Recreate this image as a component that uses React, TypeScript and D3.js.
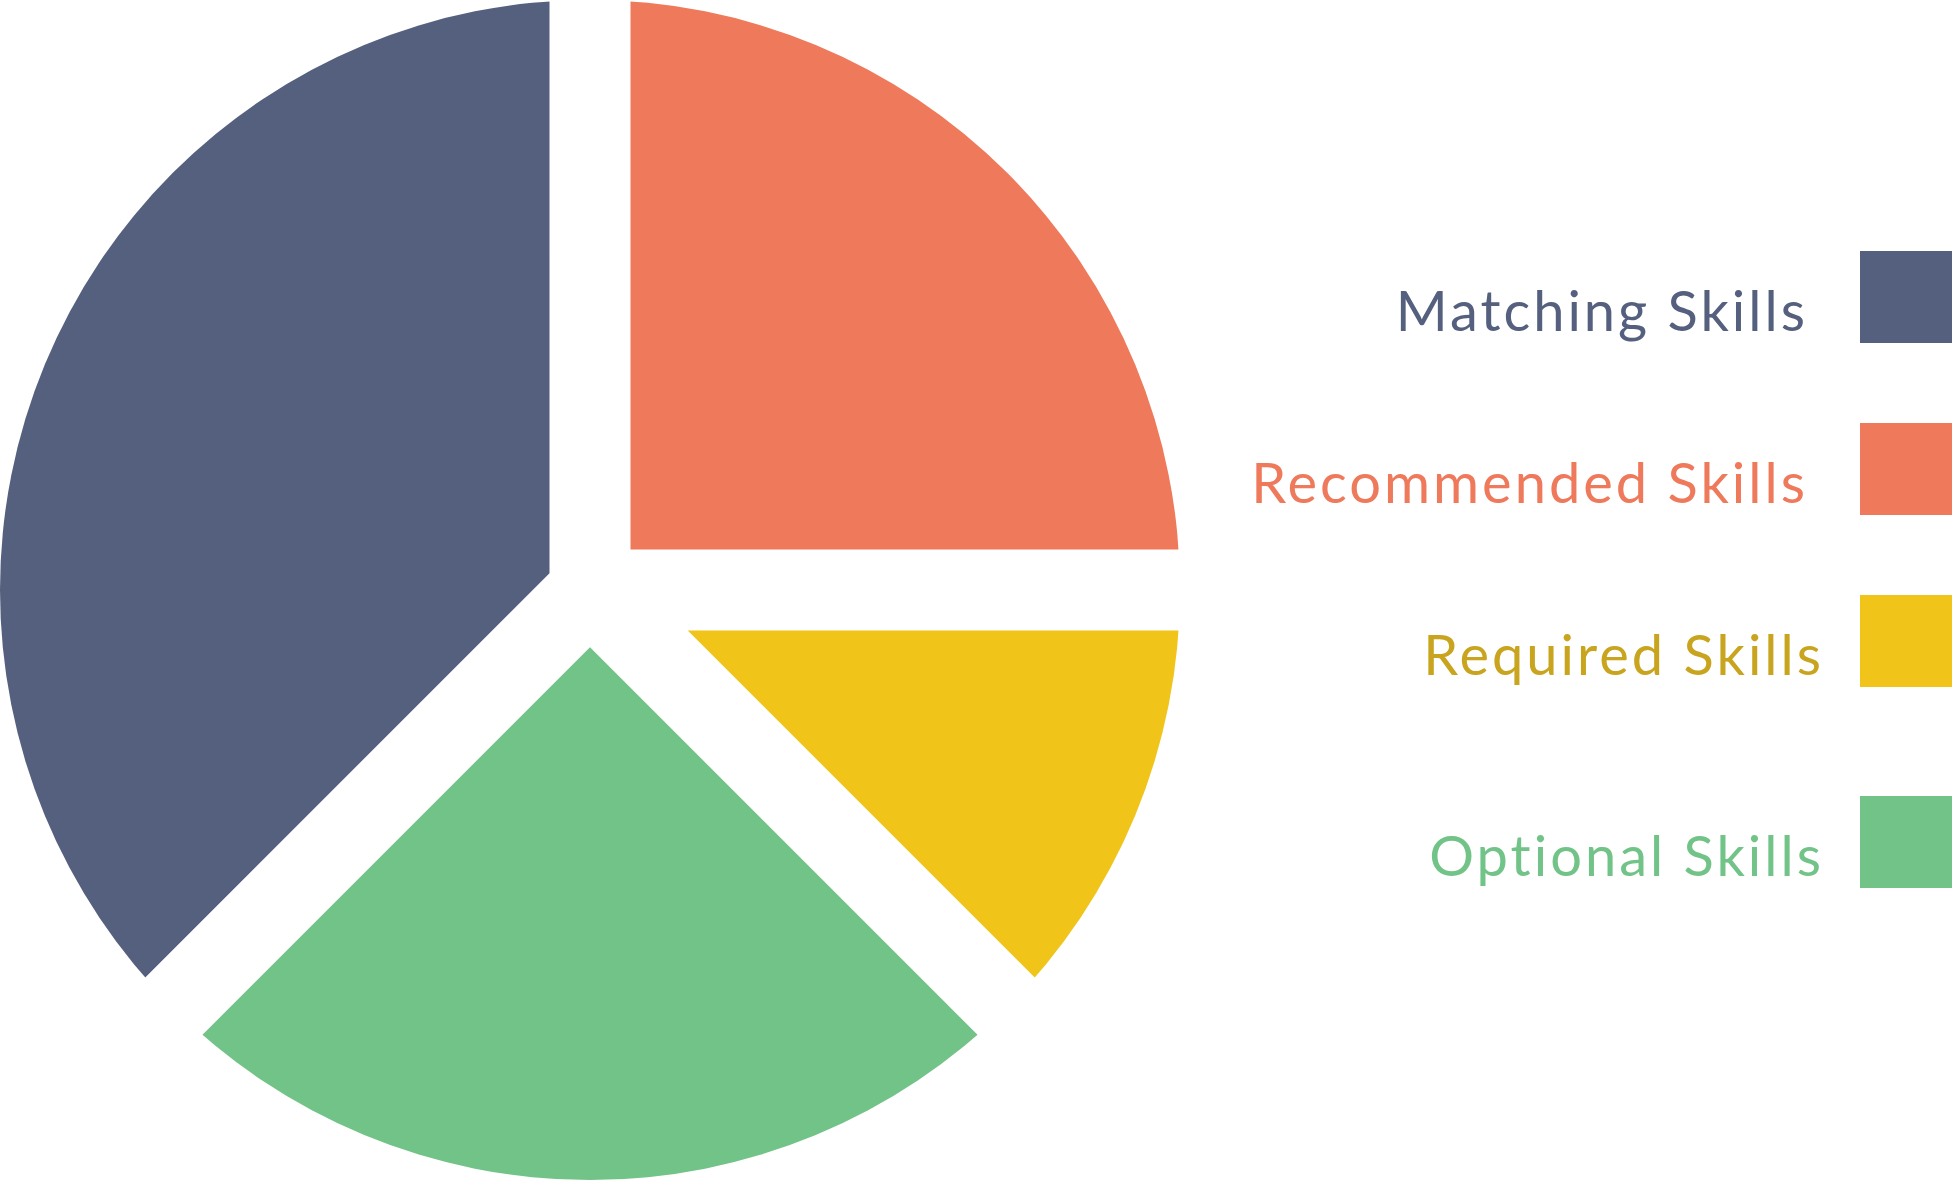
import React from "react";
import * as d3 from "d3";

const categories = ["Recommended Skills", "Required Skills", "Optional Skills", "Matching Skills"];
const values = [25, 12.5, 25, 37.5];
const sliceColors = ["#ef795b", "#f0c419", "#72c387", "#55607f"];
const textColors = ["#ef795b", "#c9a51f", "#72c387", "#55607f"];
const legendOrder = ["Matching Skills", "Recommended Skills", "Required Skills", "Optional Skills"];
const legendY = [297, 469, 641, 842];
const legendTextRight = [1808, 1808, 1824, 1824];

export default function App() {
  const W = 1952, H = 1180;
  const cx = 590, cy = 590, R = 590, gap = 81;
  const pie = d3.pie<number>().sort(null).value((d) => d);
  const arcs = pie(values);
  return (
    <svg width={W} height={H} style={{ position: "absolute", left: 0, top: 0 }}>
      <defs>
        <clipPath id="circ">
          <circle cx={cx} cy={cy} r={R} />
        </clipPath>
      </defs>
      <g clipPath="url(#circ)">
        {arcs.map((a, i) => {
          const theta = a.endAngle - a.startAngle;
          const mid = (a.startAngle + a.endAngle) / 2;
          const d = gap / 2 / Math.sin(theta / 2);
          const dx = Math.sin(mid) * d, dy = -Math.cos(mid) * d;
          const path = d3.arc<any>().innerRadius(0).outerRadius(R * 2)({ ...a, padAngle: 0 }) as string;
          return <path key={i} d={path} fill={sliceColors[i]} transform={`translate(${cx + dx},${cy + dy})`} />;
        })}
      </g>
      {legendOrder.map((name, j) => {
        const i = categories.indexOf(name);
        return (
          <g key={name}>
            <rect x={1860} y={legendY[j] - 46} width={92} height={92} fill={sliceColors[i]} />
            <text x={legendTextRight[j]} y={legendY[j] + 34} textAnchor="end" fill={textColors[i]}
              style={{ fontFamily: "Lato, 'Noto Sans', sans-serif", fontSize: 56, letterSpacing: 3 }}>
              {name}
            </text>
          </g>
        );
      })}
    </svg>
  );
}
